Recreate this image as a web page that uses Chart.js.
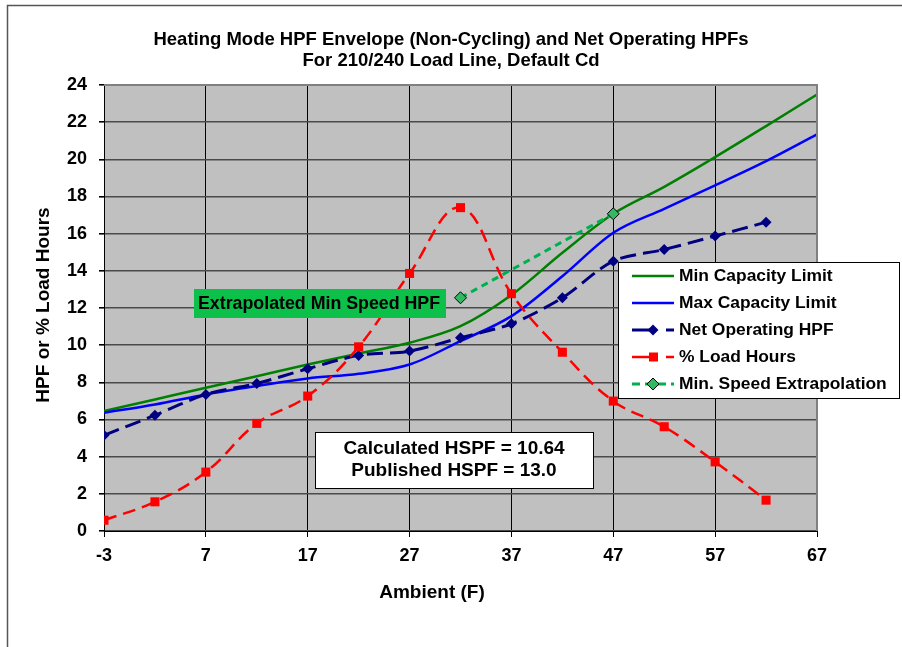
<!doctype html>
<html lang="en">
<head>
    <meta charset="utf-8">
    <title>Heating Mode HPF Envelope (Non-Cycling) and Net Operating HPFs</title>
    <script src="https://cdn.jsdelivr.net/npm/chart.js"></script>
    <style>
        html, body { margin: 0; padding: 0; background: #fff; }
        #wrap { width: 902px; height: 647px; }
    </style>
</head>
<body>
<div id="wrap"><canvas id="hpfchart" width="902" height="647"></canvas></div>
<script>
    // values
    var capAmbient = [-3, 2, 7, 12, 17, 22, 27, 32, 37, 42, 47, 52, 57, 62, 67];
    var minCapacity = [6.45, 7.08, 7.71, 8.33, 8.96, 9.55, 10.13, 11.02, 12.7, 14.97, 17.07, 18.52, 20.12, 21.79, 23.49];
    var maxCapacity = [6.36, 6.81, 7.35, 7.8, 8.21, 8.46, 8.96, 10.22, 11.56, 13.71, 16.05, 17.34, 18.6, 19.9, 21.34];

    var binAmbient = [-3, 2, 7, 12, 17, 22, 27, 32, 37, 42, 47, 52, 57, 62];
    var netOperating = [5.15, 6.23, 7.35, 7.94, 8.73, 9.45, 9.68, 10.4, 11.15, 12.55, 14.52, 15.15, 15.87, 16.62];
    var loadHours = [0.58, 1.57, 3.17, 5.79, 7.26, 9.91, 13.86, 17.4, 12.77, 9.62, 6.99, 5.61, 3.72, 1.66];

    var extrapAmbient = [32, 47];
    var extrapolation = [12.55, 17.07];

    var xTicks = [-3, 7, 17, 27, 37, 47, 57, 67];
    var titleLines = ['Heating Mode HPF Envelope (Non-Cycling) and Net Operating HPFs', 'For 210/240 Load Line, Default Cd'];
    var hspfLines = ['Calculated HSPF = 10.64', 'Published HSPF = 13.0'];

    var FONT = "'Liberation Sans', Arial, sans-serif";

    function pairs(xs, ys) {
        return xs.map(function (x, i) { return {x: x, y: ys[i]}; });
    }

    function diamond(ctx, x, y, r, fill, stroke) {
        ctx.beginPath();
        ctx.moveTo(x, y - r); ctx.lineTo(x + r, y); ctx.lineTo(x, y + r); ctx.lineTo(x - r, y);
        ctx.closePath();
        ctx.fillStyle = fill; ctx.fill();
        if (stroke) { ctx.strokeStyle = stroke; ctx.lineWidth = 1; ctx.stroke(); }
    }

    var decor = {
        id: 'decor',
        beforeDraw: function (chart) {
            var ctx = chart.ctx, a = chart.chartArea;
            ctx.save();
            ctx.fillStyle = '#fff';
            ctx.fillRect(0, 0, chart.width, chart.height);
            ctx.strokeStyle = '#555';
            ctx.lineWidth = 1.5;
            ctx.beginPath();
            ctx.moveTo(7.5, 647); ctx.lineTo(7.5, 5.5); ctx.lineTo(902, 5.5);
            ctx.stroke();
            ctx.fillStyle = '#c0c0c0';
            ctx.fillRect(a.left, a.top, a.right - a.left, a.bottom - a.top);
            ctx.restore();
        },
        afterDraw: function (chart) {
            var ctx = chart.ctx, a = chart.chartArea;
            ctx.save();
            // plot frame top / right
            ctx.strokeStyle = '#808080';
            ctx.lineWidth = 2;
            ctx.beginPath();
            ctx.moveTo(a.left, a.top); ctx.lineTo(a.right, a.top); ctx.lineTo(a.right, a.bottom);
            ctx.stroke();

            // titles
            ctx.fillStyle = '#000';
            ctx.textAlign = 'center';
            ctx.textBaseline = 'middle';
            ctx.font = 'bold 18.5px ' + FONT;
            ctx.fillText(titleLines[0], 451, 40);
            ctx.fillText(titleLines[1], 451, 61);
            ctx.font = 'bold 19px ' + FONT;
            ctx.fillText('Ambient (F)', 432, 593);
            ctx.save();
            ctx.translate(44, 305);
            ctx.rotate(-Math.PI / 2);
            ctx.fillText('HPF or % Load Hours', 0, 0);
            ctx.restore();

            // green label
            ctx.fillStyle = '#0cc04a';
            ctx.fillRect(194, 289, 252, 29);
            ctx.fillStyle = '#000';
            ctx.textAlign = 'left';
            ctx.font = 'bold 17.8px ' + FONT;
            ctx.fillText('Extrapolated Min Speed HPF', 198, 304);

            // HSPF box
            ctx.fillStyle = '#fff';
            ctx.fillRect(315, 432, 278, 56);
            ctx.strokeStyle = '#000';
            ctx.lineWidth = 1;
            ctx.strokeRect(315.5, 432.5, 278, 56);
            ctx.fillStyle = '#000';
            ctx.textAlign = 'center';
            ctx.font = 'bold 19px ' + FONT;
            ctx.fillText(hspfLines[0], 454, 449);
            ctx.fillText(hspfLines[1], 454, 471);

            // legend
            ctx.fillStyle = '#fff';
            ctx.fillRect(618, 262, 281, 136);
            ctx.strokeStyle = '#000';
            ctx.strokeRect(618.5, 262.5, 281, 136);
            ctx.font = 'bold 17.4px ' + FONT;
            var y = 276;
            chart.data.datasets.forEach(function (ds) {
                ctx.save();
                ctx.strokeStyle = ds.borderColor;
                ctx.lineWidth = ds.borderWidth;
                ctx.setLineDash(ds.legendDash || []);
                ctx.beginPath();
                ctx.moveTo(632, y); ctx.lineTo(674, y);
                ctx.stroke();
                ctx.restore();
                if (ds.pointStyle === 'rectRot') {
                    diamond(ctx, 653, y, ds.pointRadius, ds.pointBackgroundColor, ds.pointBorderWidth ? ds.pointBorderColor : null);
                } else if (ds.pointStyle === 'rect') {
                    ctx.fillStyle = ds.pointBackgroundColor;
                    ctx.fillRect(649, y - 4.5, 9, 9);
                }
                ctx.fillStyle = '#000';
                ctx.textAlign = 'left';
                ctx.fillText(ds.label, 679, y);
                y += 27;
            });
            ctx.restore();
        }
    };

    var ctx = document.getElementById('hpfchart');
    var myChart = new Chart(ctx, {
        type: 'line',
        data: {
            datasets: [{
                label: 'Min Capacity Limit',
                data: pairs(capAmbient, minCapacity),
                borderColor: '#008000',
                borderWidth: 2.5,
                pointRadius: 0,
                cubicInterpolationMode: 'monotone',
                order: 4
            }, {
                label: 'Max Capacity Limit',
                data: pairs(capAmbient, maxCapacity),
                borderColor: '#0000ff',
                borderWidth: 2.5,
                pointRadius: 0,
                cubicInterpolationMode: 'monotone',
                order: 3
            }, {
                label: 'Net Operating HPF',
                data: pairs(binAmbient, netOperating),
                borderColor: '#000080',
                borderWidth: 3,
                borderDash: [16, 7],
                legendDash: [20, 14],
                tension: 0.3,
                pointStyle: 'rectRot',
                pointRadius: 5.5,
                pointBackgroundColor: '#000080',
                pointBorderColor: '#000080',
                pointBorderWidth: 0,
                order: 1
            }, {
                label: '% Load Hours',
                data: pairs(binAmbient, loadHours),
                borderColor: '#ff0000',
                borderWidth: 2.5,
                borderDash: [13, 7],
                legendDash: [20, 14],
                tension: 0.4,
                pointStyle: 'rect',
                pointRadius: 6.4,
                pointBackgroundColor: '#ff0000',
                pointBorderColor: '#ff0000',
                pointBorderWidth: 0,
                order: 0
            }, {
                label: 'Min. Speed Extrapolation',
                data: pairs(extrapAmbient, extrapolation),
                borderColor: '#00b050',
                borderWidth: 3,
                borderDash: [7, 5],
                legendDash: [8, 5],
                pointStyle: 'rectRot',
                pointRadius: 6,
                pointBackgroundColor: '#33b864',
                pointBorderColor: '#000',
                pointBorderWidth: 1,
                order: 2
            }]
        },
        options: {
            responsive: false,
            animation: false,
            layout: {padding: {left: 0, top: 85, right: 85, bottom: 0}},
            scales: {
                x: {
                    type: 'linear',
                    min: -3,
                    max: 67,
                    afterBuildTicks: function (scale) {
                        scale.ticks = xTicks.map(function (v) { return {value: v}; });
                    },
                    afterFit: function (scale) { scale.height = 116; },
                    grid: {color: '#000', lineWidth: 1, tickLength: 6, tickColor: '#000'},
                    border: {color: '#000', width: 1},
                    ticks: {
                        color: '#000',
                        padding: 8,
                        font: {family: FONT, size: 18, weight: 'bold'},
                        maxRotation: 0,
                        autoSkip: false
                    }
                },
                y: {
                    min: 0,
                    max: 24,
                    afterFit: function (scale) { scale.width = 104; },
                    grid: {color: '#4a4a4a', lineWidth: 1.6, tickLength: 5, tickColor: '#000'},
                    border: {color: '#000', width: 1},
                    ticks: {
                        stepSize: 2,
                        color: '#000',
                        padding: 12,
                        font: {family: FONT, size: 18, weight: 'bold'}
                    }
                }
            },
            plugins: {
                legend: {display: false},
                title: {display: false},
                tooltip: {enabled: false}
            }
        },
        plugins: [decor]
    });
</script>
</body>
</html>
